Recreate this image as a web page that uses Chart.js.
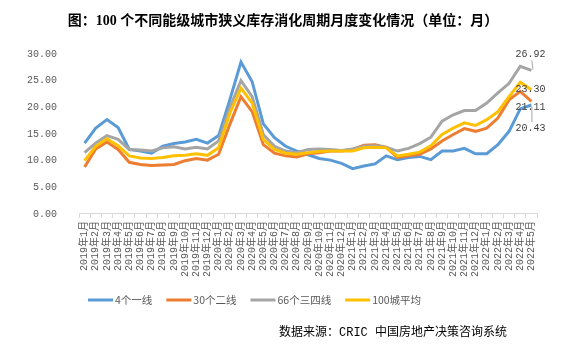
<!DOCTYPE html>
<html>
<head>
<meta charset="utf-8">
<script src="https://cdn.jsdelivr.net/npm/chart.js@4/dist/chart.umd.min.js"></script>
<style>
html,body{margin:0;padding:0;background:#fff;}
#wrap{position:relative;width:576px;height:357px;}
</style>
</head>
<body>
<div id="wrap"><canvas id="c" width="576" height="357"></canvas></div>
<script>
const titleText = "图：100 个不同能级城市狭义库存消化周期月度变化情况（单位：月）";
const sourceText = "数据来源：CRIC 中国房地产决策咨询系统";
const months = ["2019年1月","2019年2月","2019年3月","2019年4月","2019年5月","2019年6月","2019年7月","2019年8月","2019年9月","2019年10月","2019年11月","2019年12月",
"2020年1月","2020年2月","2020年3月","2020年4月","2020年5月","2020年6月","2020年7月","2020年8月","2020年9月","2020年10月","2020年11月","2020年12月",
"2021年1月","2021年2月","2021年3月","2021年4月","2021年5月","2021年6月","2021年7月","2021年8月","2021年9月","2021年10月","2021年11月","2021年12月",
"2022年1月","2022年2月","2022年3月","2022年4月","2022年5月"];
const seriesNames = ["4个一线","30个二线","66个三四线","100城平均"];
const tier1 = [13.3,16.1,17.7,16.2,12.1,11.8,11.4,12.7,13.2,13.5,14.0,13.3,
14.7,21.4,28.5,24.8,16.9,14.3,12.7,11.8,11.1,10.4,10.1,9.5,
8.5,9.0,9.4,10.9,10.2,10.6,10.8,10.2,11.8,11.8,12.3,11.3,
11.3,13.0,15.5,19.7,20.43];
const tier2 = [8.8,12.2,13.5,12.1,9.7,9.3,9.1,9.2,9.3,10.0,10.4,10.1,
11.2,16.8,22.0,19.2,13.0,11.4,10.9,10.7,11.3,11.5,11.8,11.8,
12.1,12.9,13.0,12.5,10.6,10.9,11.2,12.2,13.7,14.9,16.0,15.5,
16.1,18.0,21.4,23.0,21.11];
const tier34 = [11.5,13.3,14.7,14.0,12.1,12.0,11.8,12.4,12.6,12.2,12.5,12.2,
13.7,19.9,25.0,22.0,14.9,12.7,11.8,11.5,12.1,12.2,12.1,11.9,
12.2,12.7,12.8,12.5,11.8,12.3,13.2,14.4,17.4,18.6,19.4,19.4,
20.8,22.7,24.5,27.7,26.92];
const avg100 = [10.0,12.7,14.1,12.8,10.9,10.5,10.4,10.6,10.9,11.0,11.3,11.0,
12.4,18.9,23.6,20.8,14.0,12.1,11.4,11.2,11.5,11.7,11.8,11.8,
11.8,12.4,12.5,12.4,10.9,11.2,11.6,12.8,14.9,16.1,17.1,16.6,
17.7,19.2,22.0,24.7,23.30];
const yTicks = [0,5,10,15,20,25,30];

const colors = ["#5B9BD5","#ED7D31","#A5A5A5","#FFC000"];
const seriesData = [tier1, tier2, tier34, avg100];
const monoCJK = "'Liberation Mono','Noto Sans CJK SC'";

// label offsets for end-of-line value labels (dy relative to point), leader line flag
const endLabelStyle = [
  {dy: 23, leader: true},
  {dy: 6, leader: false},
  {dy: -16, leader: true},
  {dy: 0, leader: false}
];

const decorPlugin = {
  id: 'decor',
  afterDraw(chart) {
    const ctx = chart.ctx;
    const xs = chart.scales.x, ys = chart.scales.y;
    ctx.save();
    // title
    ctx.fillStyle = '#000';
    ctx.font = "bold 14px 'Liberation Serif','Noto Sans CJK SC'";
    ctx.textAlign = 'center';
    ctx.textBaseline = 'middle';
    ctx.fillText(titleText, 283, 21);
    // end labels
    ctx.font = "10px " + monoCJK;
    ctx.fillStyle = '#404040';
    ctx.strokeStyle = '#A6A6A6';
    ctx.lineWidth = 1;
    const last = months.length - 1;
    seriesData.forEach((arr, i) => {
      const v = arr[last];
      const px = xs.getPixelForValue(last);
      const py = ys.getPixelForValue(v);
      const st = endLabelStyle[i];
      const ly = py + st.dy;
      ctx.textAlign = 'center';
      ctx.fillText(v.toFixed(2), px - 1, ly);
      if (st.leader) {
        ctx.beginPath();
        if (st.dy < 0) { ctx.moveTo(px + 0.5, ly + 6); ctx.lineTo(px + 1.5, py - 1); }
        else { ctx.moveTo(px + 0.5, py + 2); ctx.lineTo(px + 0.5, ly - 6); }
        ctx.stroke();
      }
    });
    // legend
    ctx.font = "10.5px 'Noto Sans CJK SC'";
    ctx.textAlign = 'left';
    let lx = 88;
    const legY = 300;
    chart.data.datasets.forEach((ds, i) => {
      ctx.strokeStyle = ds.borderColor;
      ctx.lineWidth = 3;
      ctx.beginPath();
      ctx.moveTo(lx, legY);
      ctx.lineTo(lx + 25, legY);
      ctx.stroke();
      ctx.fillStyle = '#595959';
      ctx.fillText(ds.label, lx + 27, legY);
      lx += 27 + ctx.measureText(ds.label).width + 14;
    });
    // source
    ctx.fillStyle = '#000';
    ctx.font = "12px " + monoCJK;
    ctx.textAlign = 'left';
    ctx.fillText(sourceText, 279, 333);
    ctx.restore();
  }
};

const orders = [3, 2, 1, 0];
new Chart(document.getElementById('c'), {
  type: 'line',
  data: {
    labels: months,
    datasets: seriesNames.map((name, i) => ({
      label: name,
      data: seriesData[i],
      borderColor: colors[i],
      backgroundColor: colors[i],
      borderWidth: 3,
      pointRadius: 0,
      tension: 0,
      order: orders[i]
    }))
  },
  options: {
    responsive: false,
    animation: false,
    devicePixelRatio: 1,
    layout: { padding: { left: 13, right: 39, top: 54, bottom: 77 } },
    plugins: {
      legend: { display: false },
      title: { display: false },
      tooltip: { enabled: false }
    },
    scales: {
      x: {
        offset: true,
        grid: { display: true, drawOnChartArea: false, drawTicks: true, tickLength: 4, color: '#D9D9D9', offset: true },
        border: { display: true, color: '#D9D9D9', width: 1 },
        ticks: {
          autoSkip: false, maxRotation: 90, minRotation: 90, padding: 3,
          color: '#595959', font: { family: monoCJK, size: 10 }
        }
      },
      y: {
        min: 0, max: 30,
        afterBuildTicks(scale) { scale.ticks = yTicks.map(v => ({ value: v })); },
        grid: { display: false },
        border: { display: false },
        ticks: {
          padding: 14, color: '#595959', font: { family: monoCJK, size: 10 },
          callback: v => Number(v).toFixed(2)
        }
      }
    }
  },
  plugins: [decorPlugin]
});
</script>
</body>
</html>
